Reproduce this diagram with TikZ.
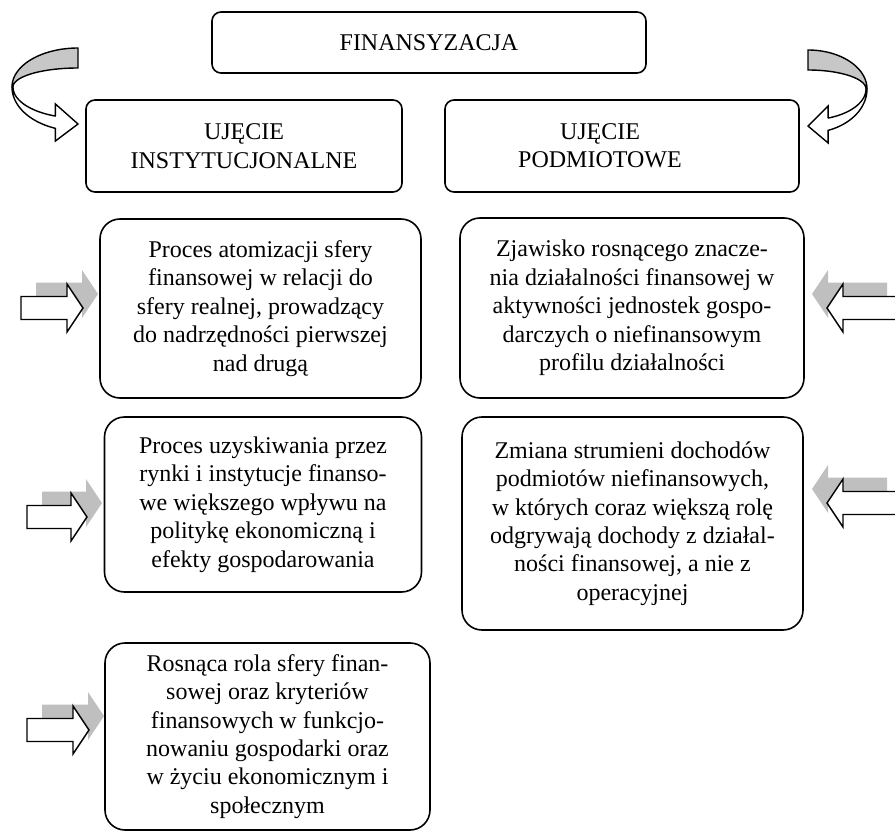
\documentclass[tikz,border=0pt]{standalone}
\usepackage{fontspec}
\setmainfont{Liberation Serif}
\tikzstyle{block} = [rectangle, draw, line width=1.6pt, rounded corners=20pt,
    align=center, inner sep=6pt, font=\fontsize{24}{28.4}\selectfont]
\tikzstyle{block_head} = [block, rounded corners=9pt]

% straight block arrow with its grey shadow: tip x, tip y, direction, length
\newcommand{\sidearrow}[4]{%
  \begin{scope}[shift={(#1,#2)}, xscale=#3]
    \fill[shadow_fill, shift={(15,-14)}] (0,0) -- (-16,-24) -- (-16,-11.5) -- (-#4,-11.5)
      -- (-#4,11.5) -- (-16,11.5) -- (-16,24) -- cycle;
    \draw[outline, fill=white] (0,0) -- (-16,-24) -- (-16,-11.5) -- (-#4,-11.5)
      -- (-#4,11.5) -- (-16,11.5) -- (-16,24) -- cycle;
  \end{scope}}

% curved arrow: centre x, centre y, direction, radius
\newcommand{\bentarrow}[4]{%
  \begin{scope}[shift={(#1,#2)}, xscale=#3]
    \draw[outline, band_fill]
      plot[domain=270:180, samples=40, variable=\t] ({#4*cos(\t)},{39*sin(\t)})
      -- plot[domain=180:270, samples=40, variable=\t] ({(#4-1)*cos(\t)},{19*sin(\t)})
      -- cycle;
    \draw[outline, fill=white]
      plot[domain=180:110, samples=30, variable=\t] ({#4*cos(\t)},{44*sin(\t)})
      -- ({-0.342*#4},54) -- (0,37) -- ({-0.342*#4},17) -- ({-0.342*#4},29)
      -- plot[domain=110:180, samples=30, variable=\t] ({(#4-1)*cos(\t)},{31*sin(\t)})
      -- cycle;
  \end{scope}}

\begin{document}
\begin{tikzpicture}[x=1pt, y=-1pt,
    outline/.style={draw=black, line width=1.4pt, line join=miter},
    shadow_fill/.style={fill=black!25},
    band_fill/.style={fill=black!22},
    block_text/.style={align=center, inner sep=0pt, font=\fontsize{24}{28.4}\selectfont}]

    \useasboundingbox (0,0) rectangle (895,832);
    \clip (0,0) rectangle (895,832);

    % header boxes
    \node [block_head, minimum width=434pt, minimum height=61pt] (fin) at (429,42.5) {FINANSYZACJA};
    \node [block_head, minimum width=316pt, minimum height=92pt] (inst) at (244,146) {UJĘCIE\\INSTYTUCJONALNE};
    \node [block_head, minimum width=354pt, minimum height=92pt] (podm) at (622,146) {};
    \node [block_text] (podmText) at (600,146) {UJĘCIE\\PODMIOTOWE};

    % left column
    \node [block, minimum width=321pt, minimum height=179pt] (inst1) at (260.5,308.5)
        {Proces atomizacji sfery\\finansowej w relacji do\\sfery realnej, prowadzący\\do nadrzędności pierwszej\\nad drugą};
    \node [block, minimum width=317pt, minimum height=175pt] (inst2) at (263,504.5)
        {Proces uzyskiwania przez\\rynki i instytucje finanso-\\we większego wpływu na\\politykę ekonomiczną i\\efekty gospodarowania};
    \node [block, minimum width=325pt, minimum height=187pt] (inst3) at (267.5,736.5)
        {Rosnąca rola sfery finan-\\sowej oraz kryteriów\\finansowych w funkcjo-\\nowaniu gospodarki oraz\\w życiu ekonomicznym i\\społecznym};

    % right column
    \node [block, minimum width=344pt, minimum height=180pt] (podm1) at (632,308)
        {Zjawisko rosnącego znacze-\\nia działalności finansowej w\\aktywności jednostek gospo-\\darczych o niefinansowym\\profilu działalności};
    \node [block, minimum width=341pt, minimum height=213pt] (podm2) at (632.5,523.5)
        {Zmiana strumieni dochodów\\podmiotów niefinansowych,\\w których coraz większą rolę\\odgrywają dochody z działal-\\ności finansowej, a nie z\\operacyjnej};

    % arrows
    \bentarrow{78}{87}{1}{66}
    \bentarrow{808}{89}{-1}{59}
    \sidearrow{83}{308}{1}{62}
    \sidearrow{87}{517}{1}{60}
    \sidearrow{89}{730}{1}{62}
    \sidearrow{827}{308}{-1}{75}
    \sidearrow{827}{503}{-1}{75}

\end{tikzpicture}
\end{document}
